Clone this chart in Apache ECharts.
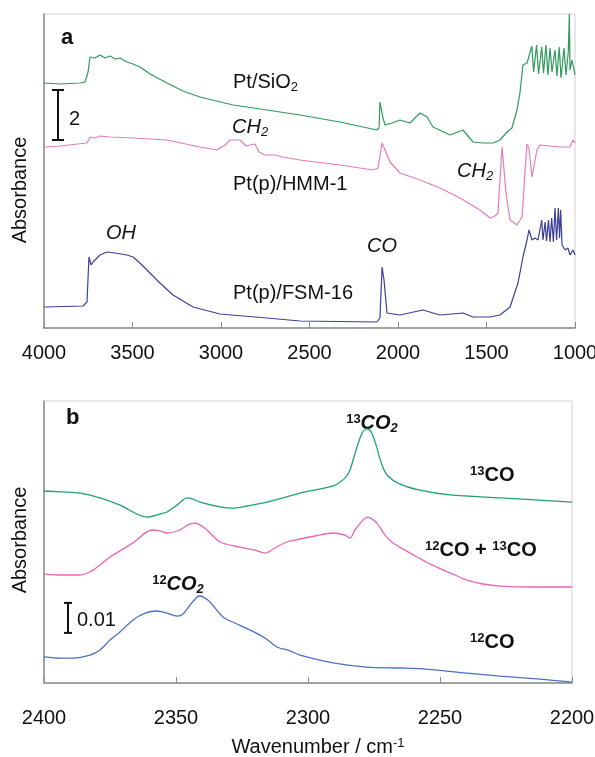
<!DOCTYPE html>
<html>
<head>
<meta charset="utf-8">
<script src="https://cdn.jsdelivr.net/npm/echarts@6/dist/echarts.min.js"></script>
<style>
html, body { margin: 0; background: #fff; }
#chart { width: 595px; height: 757px; }
</style>
</head>
<body>
<div id="chart"></div>
<script>
// ---- panel a : wavenumber (cm-1) and offset absorbance ----
var siO2Wn = [4000, 3910, 3797, 3768, 3751, 3740, 3712, 3684, 3655, 3627, 3599, 3571, 3531, 3497, 3458, 3401, 3305, 3215, 3119, 2932, 2740, 2554, 2328, 2119, 2107, 2102, 2085, 2073, 2034, 1989, 1932, 1876, 1836, 1802, 1706, 1633, 1576, 1520, 1463, 1424, 1384, 1356, 1328, 1311, 1294, 1271, 1244, 1234, 1217, 1206, 1188, 1178, 1164, 1153, 1141, 1130, 1113, 1102, 1089, 1079, 1062, 1051, 1038, 1032, 1028, 1017, 1000];
var siO2Abs = [9.80, 9.76, 9.80, 9.84, 10.24, 10.84, 10.80, 10.92, 10.80, 10.88, 10.76, 10.80, 10.64, 10.56, 10.44, 10.16, 9.80, 9.48, 9.24, 8.92, 8.72, 8.52, 8.24, 7.92, 8.00, 9.04, 8.40, 8.12, 8.20, 8.32, 8.20, 8.60, 8.44, 8.04, 7.72, 7.92, 7.44, 7.40, 7.40, 7.52, 7.84, 8.00, 8.72, 9.40, 10.52, 10.60, 11.28, 10.24, 11.32, 10.16, 11.24, 10.20, 11.32, 10.12, 11.20, 10.24, 11.12, 10.08, 11.24, 10.00, 11.20, 10.12, 11.04, 12.56, 10.32, 10.72, 10.12];

var hmmWn = [4000, 3910, 3757, 3740, 3712, 3684, 3627, 3497, 3305, 3119, 3023, 2977, 2949, 2893, 2859, 2836, 2808, 2785, 2751, 2695, 2684, 2650, 2554, 2328, 2141, 2113, 2090, 2073, 2045, 1989, 1876, 1763, 1650, 1537, 1480, 1452, 1435, 1424, 1412, 1401, 1390, 1367, 1328, 1299, 1282, 1271, 1260, 1243, 1232, 1215, 1198, 1141, 1085, 1028, 1011, 1000];
var hmmAbs = [7.24, 7.28, 7.40, 7.64, 7.60, 7.68, 7.64, 7.60, 7.52, 7.24, 7.12, 7.32, 7.52, 7.52, 7.28, 7.32, 7.36, 7.04, 6.92, 6.92, 6.96, 6.84, 6.72, 6.52, 6.32, 6.40, 7.40, 7.12, 6.64, 6.20, 5.92, 5.60, 5.20, 4.72, 4.40, 4.48, 4.60, 5.92, 7.24, 7.20, 5.40, 4.32, 4.12, 4.44, 6.32, 7.36, 7.20, 6.04, 6.04, 7.12, 7.32, 7.28, 7.24, 7.24, 7.52, 7.40];

var fsmWn = [4000, 3780, 3757, 3746, 3734, 3723, 3684, 3644, 3599, 3531, 3497, 3458, 3418, 3345, 3271, 3158, 3006, 2740, 2554, 2119, 2102, 2090, 2079, 2062, 1989, 1859, 1763, 1633, 1576, 1480, 1424, 1367, 1322, 1294, 1271, 1260, 1243, 1226, 1209, 1198, 1188, 1181, 1169, 1161, 1150, 1141, 1132, 1122, 1113, 1104, 1094, 1087, 1081, 1073, 1056, 1040, 1028, 1011, 1000];
var fsmAbs = [0.84, 0.88, 1.04, 2.84, 2.52, 2.64, 2.92, 3.04, 3.00, 2.92, 2.84, 2.60, 2.32, 1.80, 1.32, 0.84, 0.56, 0.40, 0.28, 0.24, 0.40, 2.44, 1.92, 0.60, 0.52, 0.72, 0.52, 0.60, 0.44, 0.44, 0.52, 0.84, 1.80, 2.84, 3.52, 3.92, 3.52, 3.60, 3.52, 3.60, 4.32, 3.52, 4.24, 3.48, 4.32, 3.44, 4.40, 3.44, 4.80, 3.52, 4.80, 3.60, 4.72, 3.32, 3.12, 3.20, 2.92, 3.12, 2.92];

// ---- panel b ----
var co13Wn = [2400, 2393.9, 2386.4, 2378.8, 2371.2, 2361, 2356.1, 2353.4, 2349.6, 2345.8, 2343.6, 2340.9, 2333.3, 2328.4, 2323.1, 2315.5, 2303, 2290.5, 2286, 2284.1, 2281.8, 2279.5, 2277.7, 2276.1, 2274.2, 2272, 2269.7, 2265.2, 2257.6, 2246.2, 2227.3, 2200];
var co13Abs = [0.0640, 0.0637, 0.0633, 0.0617, 0.0593, 0.0553, 0.0563, 0.0570, 0.0593, 0.0617, 0.0613, 0.0603, 0.0587, 0.0583, 0.0590, 0.0603, 0.0633, 0.0657, 0.0683, 0.0710, 0.0777, 0.0833, 0.0847, 0.0837, 0.0793, 0.0727, 0.0690, 0.0663, 0.0643, 0.0627, 0.0617, 0.0603];

var mixWn = [2400, 2393.9, 2386.4, 2382.6, 2378.8, 2375, 2366.3, 2359.1, 2356.1, 2353.4, 2348.5, 2345.5, 2342.8, 2340.9, 2338.3, 2333.3, 2325.8, 2320.1, 2316.3, 2312.5, 2308, 2303, 2297.3, 2290.5, 2286, 2284.1, 2282.2, 2279.2, 2277.3, 2275.8, 2273.9, 2270.8, 2267.8, 2263.3, 2258.7, 2253.8, 2248.9, 2244.3, 2239.8, 2233.7, 2227.3, 2214.8, 2200];
var mixAbs = [0.0363, 0.0360, 0.0360, 0.0370, 0.0393, 0.0420, 0.0467, 0.0510, 0.0507, 0.0500, 0.0510, 0.0527, 0.0533, 0.0527, 0.0510, 0.0470, 0.0453, 0.0443, 0.0433, 0.0450, 0.0470, 0.0480, 0.0490, 0.0500, 0.0493, 0.0483, 0.0510, 0.0543, 0.0553, 0.0547, 0.0533, 0.0493, 0.0467, 0.0443, 0.0420, 0.0397, 0.0377, 0.0360, 0.0343, 0.0330, 0.0323, 0.0320, 0.0320];

var co12Wn = [2400, 2393.9, 2389, 2382.6, 2378.8, 2375, 2371.2, 2366.3, 2361.7, 2357.2, 2353.4, 2349.6, 2347.3, 2344.7, 2342, 2340.9, 2339, 2337.1, 2332.2, 2327.7, 2322, 2316.3, 2311.7, 2306.8, 2303, 2290.5, 2277.7, 2265.2, 2256.4, 2239.8, 2227.3, 2212.1, 2200];
var co12Abs = [0.0087, 0.0083, 0.0083, 0.0093, 0.0110, 0.0143, 0.0170, 0.0210, 0.0233, 0.0240, 0.0233, 0.0223, 0.0230, 0.0260, 0.0287, 0.0290, 0.0283, 0.0270, 0.0220, 0.0200, 0.0177, 0.0150, 0.0120, 0.0107, 0.0093, 0.0067, 0.0053, 0.0050, 0.0047, 0.0033, 0.0023, 0.0013, 0.0003];

// scale bars: [wavenumber, from, to]
var barA = [[3921, 7.52, 9.52]];
var barB = [[2390.9, 0.0167, 0.0267]];

function zip(xs, ys) {
    var out = [];
    for (var i = 0; i < xs.length; i++) out.push([xs[i], ys[i]]);
    return out;
}

function makeBar(half) {
    return function (params, api) {
        var p0 = api.coord([api.value(0), api.value(1)]);
        var p1 = api.coord([api.value(0), api.value(2)]);
        var st = { stroke: '#111', lineWidth: 2 };
        return {
            type: 'group',
            children: [
                { type: 'line', shape: { x1: p0[0], y1: p0[1], x2: p1[0], y2: p1[1] }, style: st },
                { type: 'line', shape: { x1: p0[0] - half, y1: p0[1], x2: p0[0] + half, y2: p0[1] }, style: st },
                { type: 'line', shape: { x1: p1[0] - half, y1: p1[1], x2: p1[0] + half, y2: p1[1] }, style: st }
            ]
        };
    };
}

var FONT = '"Liberation Sans", Arial, sans-serif';
var axisGray = '#8c8c8c';

function txt(x, y, rich, opts) {
    opts = opts || {};
    return {
        type: 'text', x: x, y: y, rotation: opts.rot || 0,
        style: {
            text: rich,
            fontFamily: FONT,
            fontSize: opts.size || 20,
            fontWeight: opts.weight || 'normal',
            fontStyle: opts.style || 'normal',
            fill: '#111',
            align: opts.align || 'left',
            verticalAlign: 'middle',
            rich: {
                sub: { fontSize: 13, fontFamily: FONT, fontWeight: opts.weight || 'normal', fontStyle: opts.style || 'normal', padding: [10, 0, 0, 0] },
                sup: { fontSize: 13, fontFamily: FONT, fontWeight: opts.weight || 'normal', padding: [0, 0, 8, 0] }
            }
        }
    };
}

var chart = echarts.init(document.getElementById('chart'));

var lineBase = { type: 'line', showSymbol: false, smooth: false, animation: false };
var plainNum = function (v) { return String(v); };

var option = {
    animation: false,
    grid: [
        { left: 44, top: 14, right: 20, height: 314, show: true, borderColor: '#cfcfcf', borderWidth: 1, outerBoundsMode: 'none', containLabel: false },
        { left: 44, top: 401, right: 23, height: 282, show: true, borderColor: '#cfcfcf', borderWidth: 1, outerBoundsMode: 'none', containLabel: false }
    ],
    xAxis: [
        {
            gridIndex: 0, type: 'value', inverse: true, min: 1000, max: 4000, interval: 500,
            axisLine: { lineStyle: { color: axisGray, width: 1.5 } },
            axisTick: { inside: true, length: 6, lineStyle: { color: axisGray } },
            axisLabel: { color: '#111', fontSize: 20, fontFamily: FONT, margin: 15, formatter: plainNum },
            splitLine: { show: false }
        },
        {
            gridIndex: 1, type: 'value', inverse: true, min: 2200, max: 2400, interval: 50,
            axisLine: { lineStyle: { color: axisGray, width: 1.5 } },
            axisTick: { inside: true, length: 6, lineStyle: { color: axisGray } },
            axisLabel: { color: '#111', fontSize: 20, fontFamily: FONT, margin: 25, formatter: plainNum },
            splitLine: { show: false }
        }
    ],
    yAxis: [
        {
            gridIndex: 0, type: 'value', min: 0, max: 12.56,
            axisLine: { show: true, lineStyle: { color: axisGray, width: 1.5 } },
            axisTick: { show: false }, axisLabel: { show: false }, splitLine: { show: false }
        },
        {
            gridIndex: 1, type: 'value', min: 0, max: 0.094,
            axisLine: { show: true, lineStyle: { color: axisGray, width: 1.5 } },
            axisTick: { show: false }, axisLabel: { show: false }, splitLine: { show: false }
        }
    ],
    series: [
        Object.assign({}, lineBase, { name: 'Pt/SiO2', xAxisIndex: 0, yAxisIndex: 0, data: zip(siO2Wn, siO2Abs), lineStyle: { color: '#2f9a5c', width: 1.2 } }),
        Object.assign({}, lineBase, { name: 'Pt(p)/HMM-1', xAxisIndex: 0, yAxisIndex: 0, data: zip(hmmWn, hmmAbs), lineStyle: { color: '#e67cb6', width: 1.2 } }),
        Object.assign({}, lineBase, { name: 'Pt(p)/FSM-16', xAxisIndex: 0, yAxisIndex: 0, data: zip(fsmWn, fsmAbs), lineStyle: { color: '#3d3f98', width: 1.2 } }),
        Object.assign({}, lineBase, { name: '13CO', xAxisIndex: 1, yAxisIndex: 1, data: zip(co13Wn, co13Abs), smooth: 0.3, lineStyle: { color: '#1fa078', width: 1.3 } }),
        Object.assign({}, lineBase, { name: '12CO + 13CO', xAxisIndex: 1, yAxisIndex: 1, data: zip(mixWn, mixAbs), smooth: 0.3, lineStyle: { color: '#e767b0', width: 1.3 } }),
        Object.assign({}, lineBase, { name: '12CO', xAxisIndex: 1, yAxisIndex: 1, data: zip(co12Wn, co12Abs), smooth: 0.3, lineStyle: { color: '#4a70c6', width: 1.3 } }),
        { type: 'custom', xAxisIndex: 0, yAxisIndex: 0, data: barA, renderItem: makeBar(6), animation: false },
        { type: 'custom', xAxisIndex: 1, yAxisIndex: 1, data: barB, renderItem: makeBar(4), animation: false }
    ],
    graphic: [
        txt(61, 38, 'a', { weight: 'bold', size: 22 }),
        txt(233, 82, 'Pt/SiO{sub|2}'),
        txt(232, 127, 'CH{sub|2}', { style: 'italic' }),
        txt(233, 184, 'Pt(p)/HMM-1'),
        txt(457, 171, 'CH{sub|2}', { style: 'italic' }),
        txt(106, 233, 'OH', { style: 'italic' }),
        txt(367, 246, 'CO', { style: 'italic' }),
        txt(233, 293, 'Pt(p)/FSM-16'),
        txt(69, 119, '2'),
        txt(20, 190, 'Absorbance', { rot: Math.PI / 2, align: 'center' }),

        txt(66, 418, 'b', { weight: 'bold', size: 22 }),
        txt(372, 423, '{sup|13}CO{sub|2}', { weight: 'bold', style: 'italic', align: 'center' }),
        txt(470, 475, '{sup|13}CO', { weight: 'bold' }),
        txt(425, 550, '{sup|12}CO + {sup|13}CO', { weight: 'bold' }),
        txt(178, 584, '{sup|12}CO{sub|2}', { weight: 'bold', style: 'italic', align: 'center' }),
        txt(470, 642, '{sup|12}CO', { weight: 'bold' }),
        txt(77, 620, '0.01'),
        txt(20, 540, 'Absorbance', { rot: Math.PI / 2, align: 'center' }),
        txt(318, 747, 'Wavenumber / cm{sup|-1}', { align: 'center' })
    ]
};

chart.setOption(option);
</script>
</body>
</html>
